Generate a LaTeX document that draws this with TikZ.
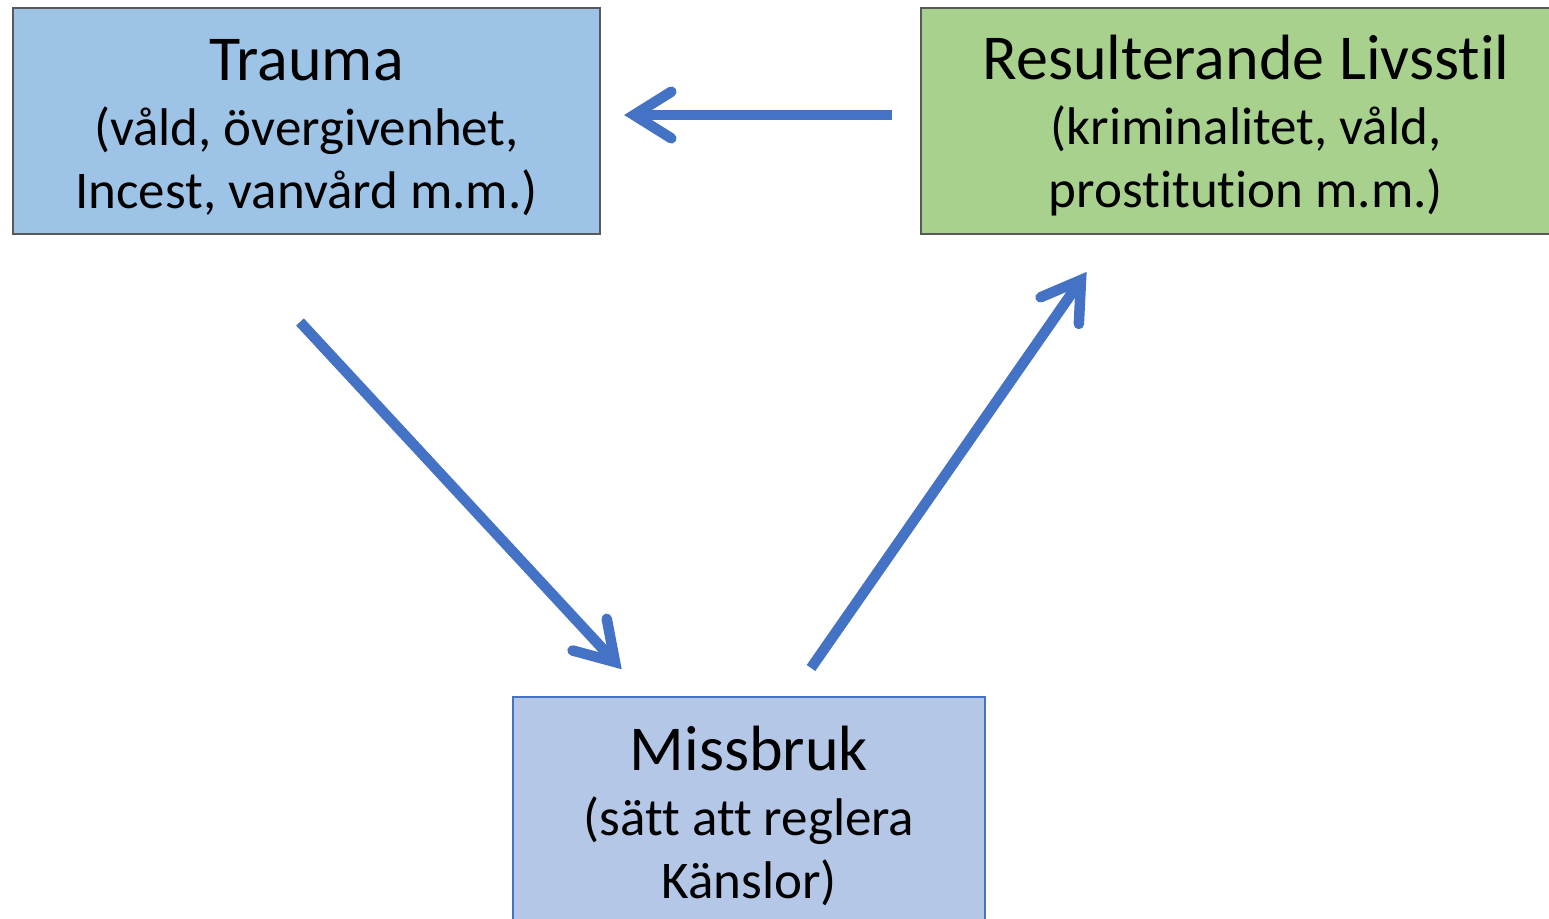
\documentclass[tikz,border=0pt]{standalone}
\usepackage{fontspec}
\setmainfont{Carlito}[Ligatures=NoCommon]
\usetikzlibrary{calc}
\definecolor{traumafill}{HTML}{9DC3E6}
\definecolor{livfill}{HTML}{A9D18E}
\definecolor{missfill}{HTML}{B4C7E7}
\definecolor{arrowblue}{HTML}{4472C4}
\definecolor{boxgray}{HTML}{595959}
\newcommand{\headline}[1]{{\fontsize{64}{64}\selectfont\rule{0pt}{54pt}#1}}
\begin{document}
\begin{tikzpicture}[x=1pt,y=-1pt,
  box/.style={draw=boxgray, line width=1.5pt, align=center, inner sep=0pt,
    font=\fontsize{53}{63}\selectfont},
  shaft/.style={draw=arrowblue, line width=10.5pt, line cap=butt},
  head/.style={draw=arrowblue, line width=10.5pt, line cap=round, line join=miter}]
\useasboundingbox (0,0) rectangle (1549,918);
\clip (0,0) rectangle (1549,918);
\fill[white] (0,0) rectangle (1549,918);
\node[box, fill=traumafill, minimum width=587pt, minimum height=226pt] (trauma) at (306.5,121)
  {\headline{Trauma}\\[2pt](våld, övergivenhet,\\Incest, vanvård m.m.)};
\node[box, fill=livfill, minimum width=650pt, minimum height=226pt] (liv) at (1246,121)
  {\headline{Resulterande Livsstil}\\[2pt](kriminalitet, våld,\\prostitution m.m.)};
\node[box, fill=missfill, draw=arrowblue, minimum width=472pt, minimum height=228pt] (miss) at (749,811)
  {\headline{Missbruk}\\[2pt](sätt att reglera\\Känslor)};
% arrow 1: liv -> trauma
\coordinate (a1s) at (892,115);
\coordinate (a1t) at (634,115);
\draw[shaft] (a1s) -- (a1t);
\draw[head] ($(a1t)!44pt!32:(a1s)$) -- (a1t) -- ($(a1t)!44pt!-32:(a1s)$);
% arrow 2: trauma -> miss
\coordinate (a2s) at (300,322);
\coordinate (a2t) at (615,662);
\draw[shaft] (a2s) -- (a2t);
\draw[head] ($(a2t)!44pt!32:(a2s)$) -- (a2t) -- ($(a2t)!44pt!-32:(a2s)$);
% arrow 3: miss -> liv
\coordinate (a3s) at (811,668);
\coordinate (a3t) at (1081,280);
\draw[shaft] (a3s) -- (a3t);
\draw[head] ($(a3t)!44pt!32:(a3s)$) -- (a3t) -- ($(a3t)!44pt!-32:(a3s)$);
\end{tikzpicture}
\end{document}
